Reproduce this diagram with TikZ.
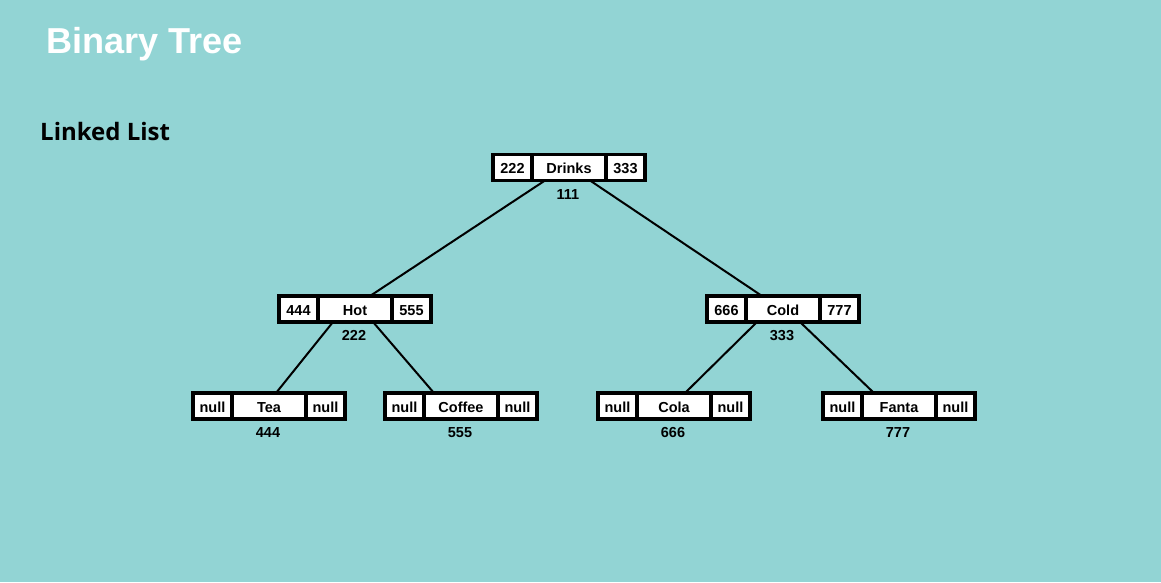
\documentclass[tikz,border=0pt]{standalone}
\usepackage{fontspec}
\setmainfont{Liberation Sans}
\newfontfamily\headfont{Open Sans}
\definecolor{bg}{RGB}{146,212,212}
\pgfdeclarelayer{background}
\pgfsetlayers{background,main}

\tikzset{
  cell/.style={draw=black, line width=3.5pt, fill=white, outer sep=0pt,
    minimum height=26pt, inner sep=0pt, text height=12pt, text depth=0pt,
    font=\bfseries\fontsize{14.5}{16}\selectfont},
  sidecell/.style={cell, minimum width=39pt},
  midcell/.style={cell, minimum width=74pt},
  addr/.style={inner sep=0pt, anchor=base, font=\bfseries\fontsize{14.5}{16}\selectfont},
  link/.style={line width=2pt, draw=black},
}

% record: name, x, y, left field, key, right field, address
\newcommand\record[7]{%
  \node[midcell] (#1) at (#2,#3) {#5};
  \node[sidecell, anchor=east] (#1-l) at (#1.west) {#4};
  \node[sidecell, anchor=west] (#1-r) at (#1.east) {#6};
  \node[addr] (#1-a) at (#2-1,#3+31.5) {#7};
}

\begin{document}
\begin{tikzpicture}[x=1pt, y=-1pt]
  \useasboundingbox (0,0) rectangle (1161,582);

  \node[anchor=base west, inner sep=0pt, text=white,
    font=\bfseries\fontsize{36.1}{40}\selectfont] (title) at (46,53) {Binary Tree};
  \node[anchor=base west, inner sep=0pt,
    font=\headfont\bfseries\fontsize{24}{28}\selectfont] (subtitle) at (40,140) {Linked List};

  \record{drinks}{569}{167.5}{222}{Drinks}{333}{111}
  \record{hot}{355}{309}{444}{Hot}{555}{222}
  \record{cold}{783}{309}{666}{Cold}{777}{333}
  \record{tea}{269}{406}{null}{Tea}{null}{444}
  \record{coffee}{461}{406}{null}{Coffee}{null}{555}
  \record{cola}{674}{406}{null}{Cola}{null}{666}
  \record{fanta}{899}{406}{null}{Fanta}{null}{777}

  \begin{pgfonlayer}{background}
    \fill[bg] (0,0) rectangle (1161,582);
    \draw[link] ([xshift=-24pt]drinks.south) -- ([xshift=15pt]hot.north);
    \draw[link] ([xshift=21pt]drinks.south) -- ([xshift=-21pt]cold.north);
    \draw[link] ([xshift=-22pt]hot.south) -- ([xshift=7pt]tea.north);
    \draw[link] ([xshift=18pt]hot.south) -- ([xshift=-27pt]coffee.north);
    \draw[link] ([xshift=-26pt]cold.south) -- ([xshift=11pt]cola.north);
    \draw[link] ([xshift=17pt]cold.south) -- ([xshift=-25pt]fanta.north);
  \end{pgfonlayer}
\end{tikzpicture}
\end{document}
